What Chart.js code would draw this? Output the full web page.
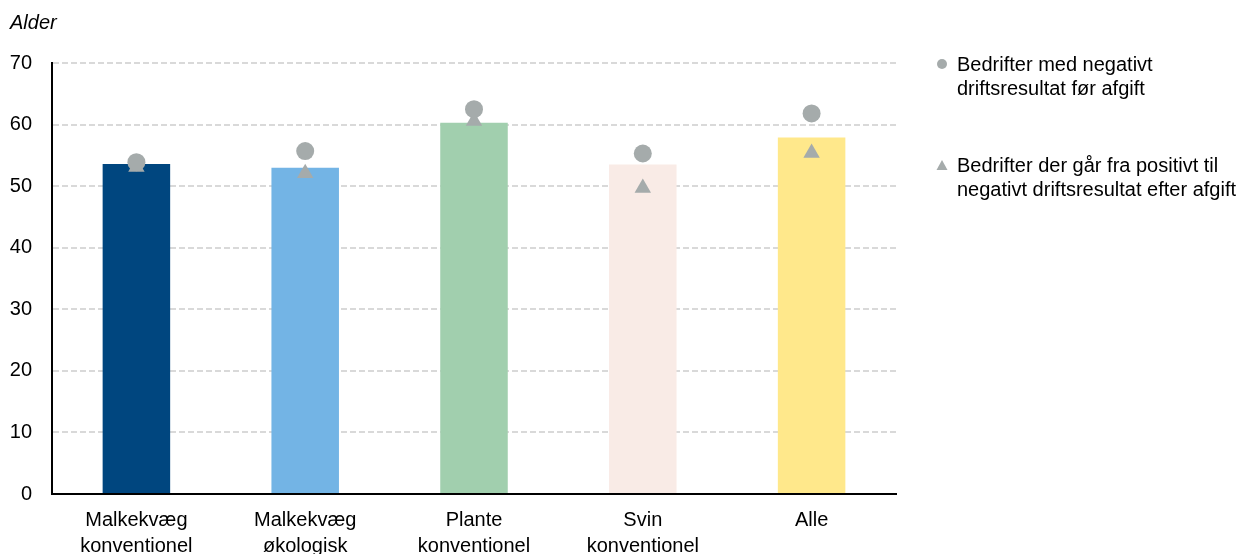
<!DOCTYPE html>
<html>
<head>
<meta charset="utf-8">
<script src="https://cdn.jsdelivr.net/npm/chart.js@4"></script>
<style>
  html, body { margin: 0; padding: 0; background: #fff; }
  #wrap { position: relative; width: 1256px; height: 554px; font-family: "Liberation Sans", Arial, sans-serif; }
  #ytitle { position: absolute; left: 10px; top: 11px; font-size: 20px; font-style: italic; color: #000; }
  #legend { position: absolute; left: 936px; top: 52px; font-size: 20px; line-height: 24px; color: #000; white-space: nowrap; }
  .item { position: relative; padding-left: 21px; margin-bottom: 53px; }
  .mk { position: absolute; left: 0px; top: 6px; }
</style>
</head>
<body>
<div id="wrap">
  <canvas id="barChart" width="1256" height="554"></canvas>
  <div id="ytitle">Alder</div>
  <div id="legend"></div>
</div>
<script>
var categories = [["Malkekvæg", "konventionel"], ["Malkekvæg", "økologisk"], ["Plante", "konventionel"], ["Svin", "konventionel"], ["Alle"]];
var averageAge = [53.6, 53.0, 60.3, 53.5, 57.9];
var negativeBefore = [53.9, 55.7, 62.5, 55.3, 61.8];
var positiveToNegative = [53.1, 52.1, 60.6, 49.7, 55.4];
var yTicks = [0, 10, 20, 30, 40, 50, 60, 70];

var barColors = ["#00467f", "#73b4e5", "#a1cfae", "#f9ebe6", "#ffe88b"];
var markerGray = "#a5abab";

var ctx = document.getElementById("barChart");

var myChart = new Chart(ctx, {
  type: "bar",
  data: {
    labels: categories,
    datasets: [
      {
        label: "Gennemsnit",
        data: averageAge,
        backgroundColor: barColors,
        barPercentage: 0.4,
        categoryPercentage: 1,
        order: 3
      },
      {
        type: "line",
        label: "Bedrifter med negativt driftsresultat før afgift",
        data: negativeBefore,
        showLine: false,
        pointStyle: "circle",
        pointRadius: 9,
        pointBackgroundColor: markerGray,
        pointBorderColor: markerGray,
        pointBorderWidth: 0,
        order: 1
      },
      {
        type: "line",
        label: "Bedrifter der går fra positivt til negativt driftsresultat efter afgift",
        data: positiveToNegative,
        showLine: false,
        pointStyle: "triangle",
        pointRadius: 9.5,
        pointBackgroundColor: markerGray,
        pointBorderColor: markerGray,
        pointBorderWidth: 0,
        order: 2
      }
    ]
  },
  options: {
    responsive: false,
    animation: false,
    layout: { padding: { top: 63, right: 360, left: 0, bottom: 0 } },
    plugins: {
      legend: { display: false },
      tooltip: { enabled: false }
    },
    scales: {
      x: {
        grid: { display: false },
        border: { color: "#000", width: 2 },
        afterFit: function (scale) { scale.height = 60; },
        ticks: {
          color: "#000",
          padding: 5,
          maxRotation: 0,
          font: { family: "Liberation Sans", size: 20, lineHeight: 1.3 }
        }
      },
      y: {
        min: 0,
        max: 70,
        afterBuildTicks: function (scale) {
          scale.ticks = yTicks.map(function (v) { return { value: v }; });
        },
        afterFit: function (scale) { scale.width = 52; },
        grid: { color: "#d9d9d9", lineWidth: 2, drawTicks: false },
        // in v4 border.dash dashes the grid lines, the axis line stays solid
        border: { color: "#000", width: 2, dash: [6, 3] },
        ticks: {
          color: "#000",
          padding: 20,
          font: { family: "Liberation Sans", size: 20 }
        }
      }
    }
  }
});

// HTML legend next to the plot
var legendLines = [
  ["Bedrifter med negativt", "driftsresultat før afgift"],
  ["Bedrifter der går fra positivt til", "negativt driftsresultat efter afgift"]
];
var markers = [
  '<svg class="mk" width="12" height="12"><circle cx="6" cy="6" r="5" fill="' + markerGray + '"/></svg>',
  '<svg class="mk" width="12" height="12"><polygon points="6,1 11.5,11 0.5,11" fill="' + markerGray + '"/></svg>'
];
var legendHtml = "";
for (var i = 0; i < legendLines.length; i++) {
  legendHtml += '<div class="item">' + markers[i] + legendLines[i].join("<br>") + "</div>";
}
document.getElementById("legend").innerHTML = legendHtml;
</script>
</body>
</html>
